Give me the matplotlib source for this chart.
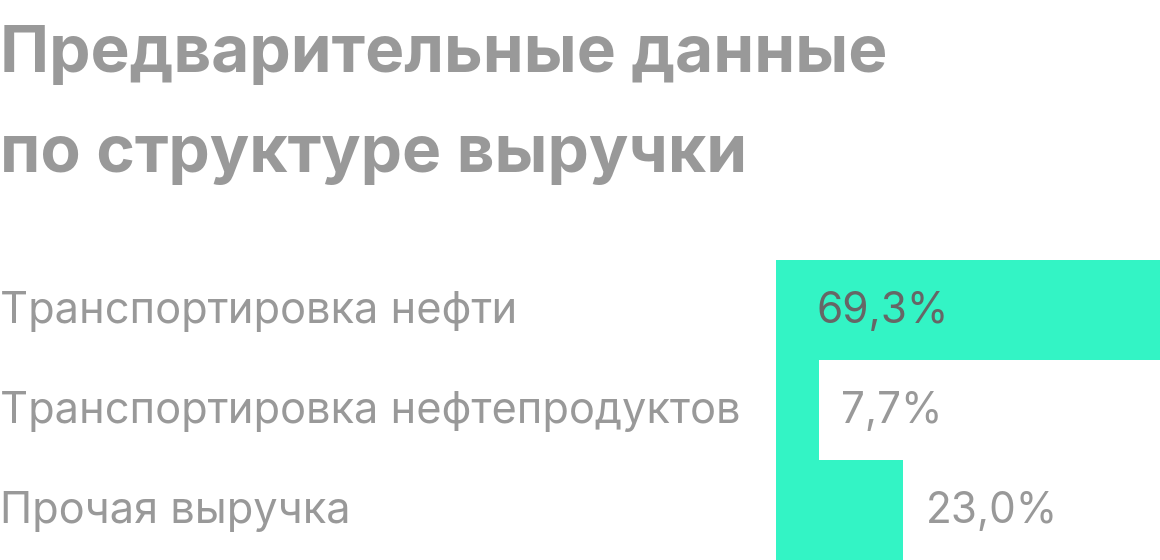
import matplotlib
matplotlib.use('Agg')
import matplotlib.pyplot as plt
import matplotlib.transforms as mtransforms

# Datos
categorias = ['Транспортировка нефти', 'Транспортировка нефтепродуктов', 'Прочая выручка']
valores = [69.3, 7.7, 23.0]
etiquetas = ['69,3%', '7,7%', '23,0%']
titulo = ['Предварительные данные', 'по структуре выручки']

plt.rcParams['font.family'] = ['Inter', 'DejaVu Sans']

W, H = 1160, 560
fig = plt.figure(figsize=(W / 100, H / 100), dpi=100)

# eje de barras: 776..1160 px, 260..560 px
ax = fig.add_axes([776 / W, 0, 384 / W, 300 / H])
pos = list(range(len(valores)))
ax.barh(pos, valores, height=1.0, color='#33F4C5', linewidth=0)
ax.set_xlim(0, max(valores))
ax.set_ylim(len(valores) - 0.5, -0.5)
ax.axis('off')

# etiquetas de categoría a la izquierda
trans = mtransforms.blended_transform_factory(fig.transFigure, ax.transData)
for i, cat in enumerate(categorias):
    ax.text(0, i + 0.13, cat, transform=trans, fontsize=31.2, color='#999999',
            ha='left', va='baseline')

# valores
for i, (v, lab) in enumerate(zip(valores, etiquetas)):
    if i == 0:
        ax.annotate(lab, xy=(0, i + 0.13), xytext=(29.5, 0), textcoords='offset points',
                    fontsize=30.5, color='#666666', ha='left', va='baseline')
    else:
        ax.annotate(lab, xy=(v, i + 0.13), xytext=(15.8, 0), textcoords='offset points',
                    fontsize=30.5, color='#999999', ha='left', va='baseline')

# título
fig.text(0, 1 - 72 / H, titulo[0], fontsize=47.3, fontweight='bold', color='#999999',
         ha='left', va='baseline')
fig.text(0, 1 - 172 / H, titulo[1], fontsize=47.3, fontweight='bold', color='#999999',
         ha='left', va='baseline')

fig.savefig('out.png', dpi=100)
